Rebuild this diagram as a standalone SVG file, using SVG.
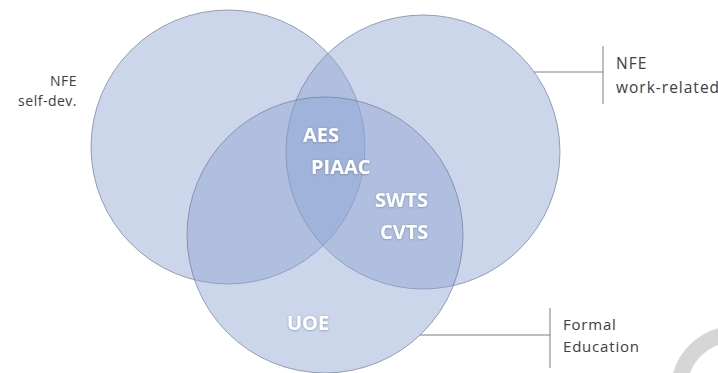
<svg xmlns="http://www.w3.org/2000/svg" width="718" height="373" viewBox="0 0 718 373">
  <defs>
    <filter id="glow" x="-20%" y="-30%" width="140%" height="160%">
      <feDropShadow dx="0" dy="0.5" stdDeviation="0.8" flood-color="#4a5a80" flood-opacity="0.55"/>
    </filter>
  </defs>
  <style>
    .c { fill: #8fa3d2; fill-opacity: 0.45; stroke: #6f7a99; stroke-opacity: 0.7; stroke-width: 1; }
    .in { font-family: "Open Sans", "Liberation Sans", sans-serif; font-weight: bold; font-size: 20px; fill: #ffffff; filter: url(#glow); }
    .lb { font-family: "Open Sans", "Liberation Sans", sans-serif; font-size: 15.5px; letter-spacing: 1px; fill: #404040; }
    .lbf { font-family: "Open Sans", "Liberation Sans", sans-serif; font-size: 15px; letter-spacing: 0.8px; fill: #404040; }
    .lbs { font-family: "Open Sans", "Liberation Sans", sans-serif; font-size: 14px; letter-spacing: 0.5px; fill: #404040; }
    .ln { stroke: #7f7f7f; stroke-width: 1; fill: none; }
  </style>
  <rect width="718" height="373" fill="#ffffff"/>
  <circle cx="735" cy="390" r="56" fill="none" stroke="#d6d6d6" stroke-width="16"/>
  <g id="nfe-self-dev">
    <circle class="c" cx="228" cy="147" r="137"/>
    <text class="lbs" x="77" y="86" text-anchor="end">NFE</text>
    <text class="lbs" x="77" y="106" text-anchor="end">self-dev.</text>
  </g>
  <g id="nfe-work-related">
    <circle class="c" cx="423" cy="152" r="137"/>
    <text class="lb" x="616" y="69">NFE</text>
    <text class="lb" x="616" y="93">work-related</text>
  </g>
  <g id="formal-education">
    <circle class="c" cx="325" cy="235" r="138"/>
    <text class="lbf" x="563" y="330">Formal</text>
    <text class="lbf" x="563" y="352">Education</text>
  </g>
  <g id="inner-labels">
    <text class="in" x="303" y="142">AES</text>
    <text class="in" x="311" y="174">PIAAC</text>
    <text class="in" x="375" y="207">SWTS</text>
    <text class="in" x="380" y="239">CVTS</text>
    <text class="in" x="287" y="330">UOE</text>
  </g>
  <g id="connectors">
    <path class="ln" d="M534 72 H603 M603 46 V104"/>
    <path class="ln" d="M420 335 H550 M550 308 V368"/>
  </g>
</svg>
